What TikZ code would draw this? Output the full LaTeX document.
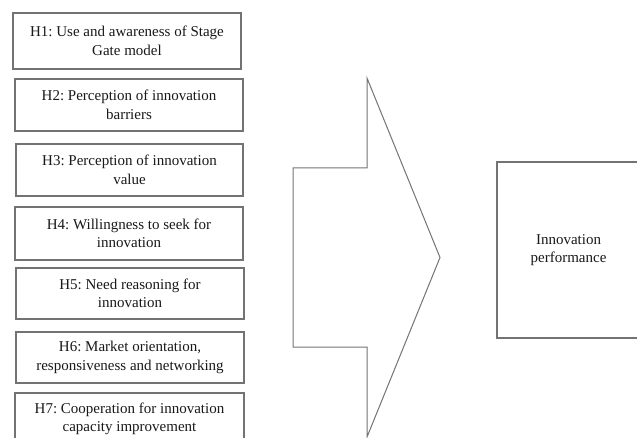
\documentclass[tikz,border=0pt]{standalone}
\usepackage{fontspec}
\setmainfont{Liberation Serif}
\frenchspacing
\begin{document}
\begin{tikzpicture}[x=1pt,y=-1pt,
  hbox/.style={draw=black!55, line width=1.2pt, fill=white, text=black!90,
    align=center, font=\fontsize{15}{18.5}\selectfont\frenchspacing, inner sep=0pt},
  outline/.style={draw=black!55, line width=1pt, line join=miter}]
\useasboundingbox (0,0) rectangle (637,438);
\clip (0,0) rectangle (637,438);
\node[hbox, minimum width=228pt, minimum height=56pt] (h1) at (127,41) {H1: Use and awareness of Stage\\Gate model};
\node[hbox, minimum width=228pt, minimum height=52pt] (h2) at (129,105) {H2: Perception of innovation\\barriers};
\node[hbox, minimum width=227pt, minimum height=52pt] (h3) at (129.5,170) {H3: Perception of innovation\\value};
\node[hbox, minimum width=228pt, minimum height=53pt] (h4) at (129,233.5) {H4: Willingness to seek for\\innovation};
\node[hbox, minimum width=228pt, minimum height=51pt] (h5) at (130,293.5) {H5: Need reasoning for\\innovation};
\node[hbox, minimum width=228pt, minimum height=51pt] (h6) at (130,357.5) {H6: Market orientation,\\responsiveness and networking};
\node[hbox, minimum width=229pt, minimum height=52pt] (h7) at (129.5,419) {H7: Cooperation for innovation\\capacity improvement};
\draw[outline] (293,168) -- (367,168) -- (367,78) -- (440,257.5) -- (367,437) -- (367,347) -- (293,347) -- cycle;
\node[hbox, minimum width=143pt, minimum height=176pt] (perf) at (568.5,250) {Innovation\\performance};
\end{tikzpicture}
\end{document}
